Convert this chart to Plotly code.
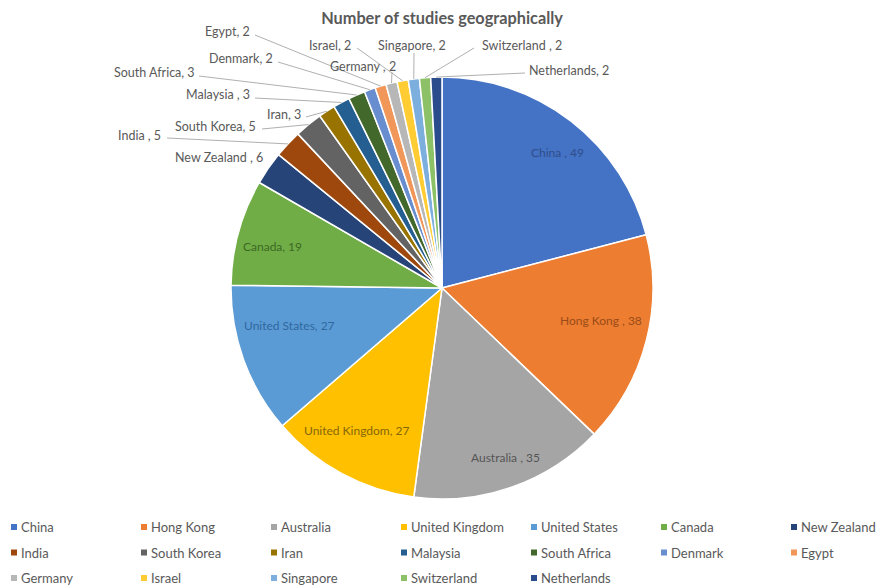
import math
import plotly.graph_objects as go

# ---------------- data ----------------
countries = ["China", "Hong Kong", "Australia", "United Kingdom", "United States", "Canada",
             "New Zealand", "India", "South Korea", "Iran", "Malaysia", "South Africa",
             "Denmark", "Egypt", "Germany", "Israel", "Singapore", "Switzerland", "Netherlands"]
studies = [49, 38, 35, 27, 27, 19, 6, 5, 5, 3, 3, 3, 2, 2, 2, 2, 2, 2, 2]
label_sep = [" , ", " , ", " , ", ", ", ", ", ", ", " , ", " , ", ", ", ", ", " , ", ", ",
             ", ", ", ", " , ", ", ", ", ", " , ", ", "]
title_text = "Number of studies geographically"

# ---------------- style ----------------
colors = ["#4472C4", "#ED7D31", "#A5A5A5", "#FFC000", "#5B9BD5", "#70AD47",
          "#264478", "#9E480E", "#636363", "#997300", "#255E91", "#43682B",
          "#698ED0", "#F1975A", "#B7B7B7", "#FFCD33", "#7CAFDD", "#8CC168", "#2B4C8C"]
inside_colors = ["#2F4E8C", "#9A4C18", "#555555", "#85670A", "#2F689F", "#3B6A22"]

W, H = 888, 588
CX, CY, R = 442, 288, 211           # pie centre / radius in px
FONT = "Lato"
GRAY = "#595959"

def px2paper(x, y):
    return x / W, 1 - y / H

# label layout: (x, y, xanchor, leader-start or None) in px
label_layout = {
    "China": (557, 152, "center", None),
    "Hong Kong": (601, 320, "center", None),
    "Australia": (506, 457, "center", None),
    "United Kingdom": (356, 430, "center", None),
    "United States": (289, 326, "center", None),
    "Canada": (272, 247, "center", None),
    "New Zealand": (265, 157, "right", None),
    "India": (163, 135, "right", (167, 138)),
    "South Korea": (258, 126, "right", (262, 129)),
    "Iran": (303, 114, "right", (306, 117)),
    "Malaysia": (252, 94, "right", (255, 98)),
    "South Africa": (197, 72, "right", (199, 76)),
    "Denmark": (275, 58, "right", (278, 62)),
    "Egypt": (252, 32, "right", (255, 35)),
    "Germany": (363, 66, "center", (392, 72)),
    "Israel": (353, 45, "right", (357, 48)),
    "Singapore": (412, 45, "center", (414, 53)),
    "Switzerland": (480, 45, "left", (474, 48)),
    "Netherlands": (527, 70, "left", (525, 73)),
}

fig = go.Figure()
dx0, dy0 = px2paper(CX - R, CY + R)
dx1, dy1 = px2paper(CX + R, CY - R)
fig.add_trace(go.Pie(
    labels=countries, values=studies, sort=False, direction="clockwise", rotation=0,
    marker=dict(colors=colors, line=dict(color="white", width=1.5)),
    textinfo="none", hoverinfo="label+value", showlegend=False,
    domain=dict(x=[dx0, dx1], y=[dy0, dy1]),
))

annotations = []
shapes = []
total = sum(studies)
cum = 0
for i, (c, v) in enumerate(zip(countries, studies)):
    mid = (cum + v / 2) / total * 2 * math.pi
    cum += v
    lx, ly, anc, lead = label_layout[c]
    inside = i < len(inside_colors)
    ax, ay = px2paper(lx, ly)
    annotations.append(dict(
        x=ax, y=ay, xref="paper", yref="paper", text=c + label_sep[i] + str(v),
        showarrow=False, xanchor=anc, yanchor="middle",
        font=dict(family=FONT, size=12 if inside else 12.5,
                  color=inside_colors[i] if inside else GRAY),
    ))
    if lead is not None:
        ex = CX + R * math.sin(mid)
        ey = CY - R * math.cos(mid)
        x0, y0 = px2paper(*lead)
        x1, y1 = px2paper(ex, ey)
        shapes.append(dict(type="line", xref="paper", yref="paper", x0=x0, y0=y0, x1=x1, y1=y1,
                           line=dict(color="#B0B0B0", width=1)))

# manual legend grid
ncol = 7
col_x0, col_dx = 14, 130
row_y0, row_dy = 527, 25.5
sq = 3
for i, (c, col) in enumerate(zip(countries, colors)):
    r, k = divmod(i, ncol)
    mx = col_x0 + k * col_dx
    my = row_y0 + r * row_dy
    a0, b0 = px2paper(mx - sq, my + sq)
    a1, b1 = px2paper(mx + sq, my - sq)
    shapes.append(dict(type="rect", xref="paper", yref="paper", x0=a0, y0=b0, x1=a1, y1=b1,
                       fillcolor=col, line=dict(width=0)))
    tx, ty = px2paper(mx + 5, my)
    annotations.append(dict(x=tx, y=ty, xref="paper", yref="paper", text=c, showarrow=False,
                            xanchor="left", yanchor="middle",
                            font=dict(family=FONT, size=13, color=GRAY)))

tx, ty = px2paper(442, 18)
fig.update_layout(
    width=W, height=H, margin=dict(l=0, r=0, t=0, b=0),
    paper_bgcolor="white", plot_bgcolor="white",
    title=dict(text="<b>" + title_text + "</b>", x=tx, y=ty, xanchor="center", yanchor="middle",
               xref="paper", yref="paper", font=dict(family=FONT, size=16.3, color=GRAY)),
    annotations=annotations, shapes=shapes, showlegend=False,
)
fig.write_html("out.html")
